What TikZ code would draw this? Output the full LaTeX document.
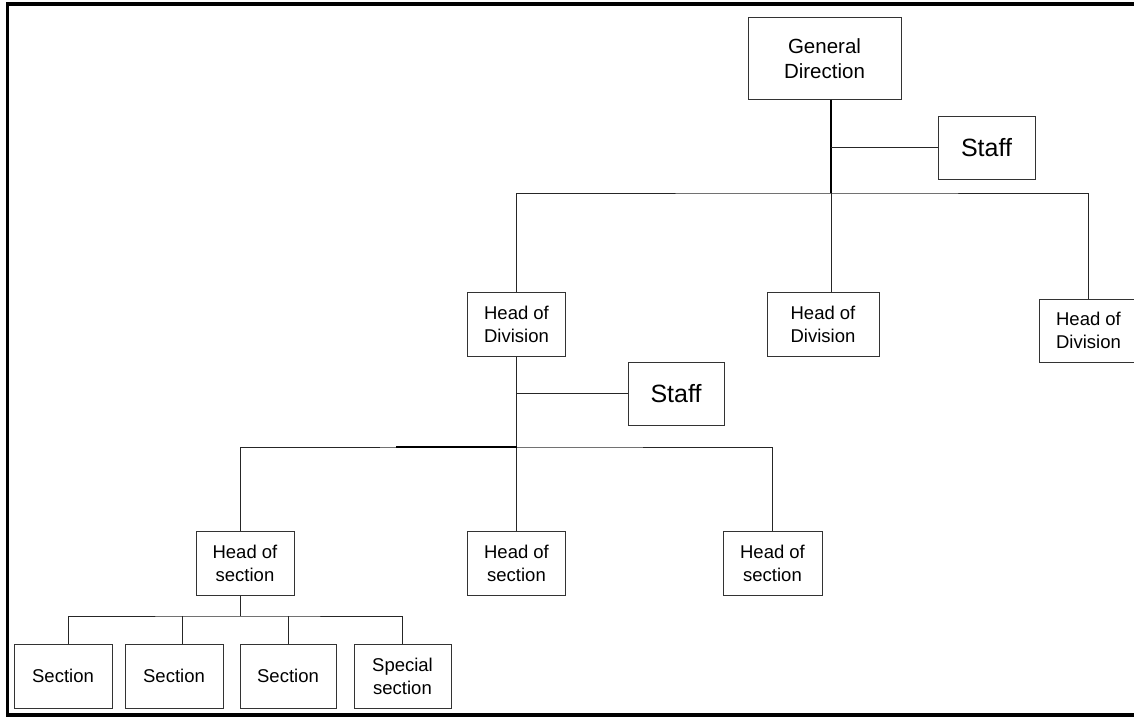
\documentclass[tikz,border=0pt]{standalone}
\usepackage{fontspec}
\setmainfont{Liberation Sans}
\begin{document}
\begin{tikzpicture}[x=1pt, y=-1pt,
  box/.style={draw=black!80, line width=1pt, inner sep=0pt, minimum width=98pt, minimum height=64pt, align=center, font=\fontsize{18.5}{23}\selectfont},
  link/.style={draw=black!85, line width=1pt},
  trunk/.style={draw=black, line width=1.8pt}]
\useasboundingbox (0,0) rectangle (1134,717);
\clip (0,0) rectangle (1134,717);
\draw[line width=3.5pt] (7.5,4) rectangle (1140,715);
\node[box, minimum width=153pt, minimum height=81pt, font=\fontsize{20.5}{25}\selectfont] (gd) at (824.5,58.5){General\\Direction};
\node[box, minimum width=97pt, minimum height=63pt, font=\fontsize{25}{30}\selectfont] (staffA) at (986.5,147.5){Staff};
\node[box] (hdA) at (516.5,324){Head of\\Division};
\node[box, minimum width=112pt] (hdB) at (823,324){Head of\\Division};
\node[box, minimum height=63pt] (hdC) at (1088.5,330.5){Head of\\Division};
\node[box, minimum width=96pt, minimum height=63pt, font=\fontsize{25}{30}\selectfont] (staffB) at (676,393.5){Staff};
\node[box] (hsA) at (245,563){Head of\\section};
\node[box] (hsB) at (516.5,563){Head of\\section};
\node[box, minimum width=99pt] (hsC) at (772.5,563){Head of\\section};
\node[box] (secA) at (63,676){Section};
\node[box] (secB) at (174,676){Section};
\node[box, minimum width=96pt] (secC) at (288,676){Section};
\node[box, minimum width=97pt] (secD) at (402.5,676){Special\\section};
\coordinate (topJ) at (831,193);
\coordinate (topS) at (831,147.5);
\draw[trunk] (gd.south -| topJ) -- (topJ);
\draw[link] (topS) -- (staffA.west);
\draw[link] (hdA.north) |- (topJ) -| (hdC.north);
\draw[link] (topJ) -- (topJ |- hdB.north);
\coordinate (divJ) at (516.5,447);
\coordinate (divS) at (516.5,393.5);
\coordinate (divL) at (396,447);
\draw[link] (hdA.south) -- (divJ);
\draw[link] (divS) -- (staffB.west);
\draw[link] (hsA.north) ++(-5,0) |- (divJ) -| (hsC.north);
\draw[link] (divJ) -- (hsB.north);
\draw[trunk, line width=1.5pt] (divL) -- (divJ);
\coordinate (secJ) at (240,616);
\draw[link] (hsA.south) ++(-5,0) -- (secJ);
\draw[link] (secA.north) ++(5,0) |- (secJ) -| (secD.north);
\draw[link] (secB.north) ++(8,0) -- ++(0,-28);
\draw[link] (secC.north) -- (secC.north |- secJ);
\end{tikzpicture}
\end{document}
